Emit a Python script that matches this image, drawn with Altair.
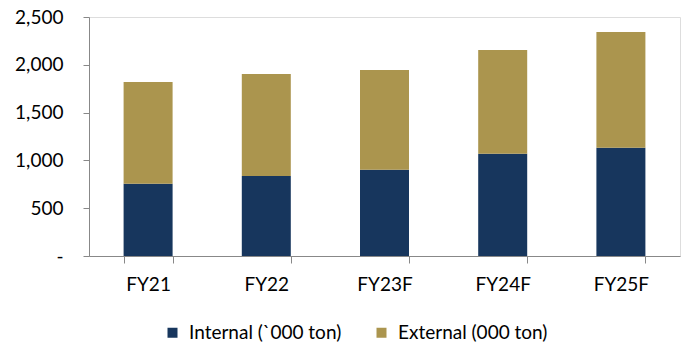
import altair as alt
import pandas as pd

# Fiscal years and volumes ('000 ton)
years = ["FY21", "FY22", "FY23F", "FY24F", "FY25F"]
internal = [755, 837, 903, 1070, 1133]
external = [1065, 1067, 1043, 1085, 1210]

series_names = ["Internal (`000 ton)", "External (000 ton)"]
series_colors = ["#17365d", "#ab954e"]

rows = []
for i, y in enumerate(years):
    rows.append({"year": y, "series": series_names[0], "order": 0, "value": internal[i]})
    rows.append({"year": y, "series": series_names[1], "order": 1, "value": external[i]})
df = pd.DataFrame(rows)

FONT = "Lato"
FS = 19

bars = alt.Chart(df).mark_bar(size=49).encode(
    x=alt.X(
        "year:N",
        sort=years,
        title=None,
        scale=alt.Scale(paddingInner=0.585, paddingOuter=0.2925),
        axis=alt.Axis(
            labelAngle=0,
            labelFontSize=FS,
            labelFont=FONT,
            labelColor="#000000",
            labelPadding=12,
            domainColor="#888888",
            tickColor="#888888",
            tickSize=7,
            tickBand="extent",
            grid=False,
        ),
    ),
    y=alt.Y(
        "value:Q",
        stack="zero",
        title=None,
        scale=alt.Scale(domain=[0, 2500], nice=False),
        axis=alt.Axis(
            values=[0, 500, 1000, 1500, 2000, 2500],
            labelExpr="datum.value == 0 ? '-' : format(datum.value, ',')",
            labelFontSize=FS,
            labelFont=FONT,
            labelColor="#000000",
            labelPadding=20,
            domainColor="#888888",
            tickColor="#888888",
            tickSize=6,
            grid=False,
        ),
    ),
    color=alt.Color(
        "series:N",
        sort=series_names,
        scale=alt.Scale(domain=series_names, range=series_colors),
        legend=alt.Legend(
            title=None,
            orient="none",
            direction="horizontal",
            legendX=74,
            legendY=306,
            symbolType="square",
            symbolSize=100,
            symbolStrokeWidth=0,
            labelFontSize=FS,
            labelFont=FONT,
            labelColor="#000000",
            labelOffset=7,
            columnPadding=30,
        ),
    ),
    order=alt.Order("order:Q", sort="ascending"),
)

chart = bars.properties(
    width=591,
    height=239,
    autosize=alt.AutoSizeParams(type="none"),
    padding={"left": 89, "top": 17, "right": 4, "bottom": 91},
).configure_view(stroke=None).configure(background="#ffffff")

chart.save("out.html", embed_options={"renderer": "svg", "actions": False})
